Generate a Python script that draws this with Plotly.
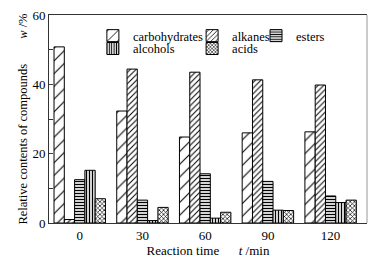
import plotly.graph_objects as go

categories = ["0", "30", "60", "90", "120"]
carbohydrates = [50.8, 32.3, 24.8, 26.0, 26.3]
alkanes = [1.0, 44.4, 43.5, 41.3, 39.8]
esters = [12.5, 6.6, 14.2, 12.0, 7.8]
alcohols = [15.2, 0.7, 1.4, 3.7, 5.9]
acids = [7.0, 4.5, 3.1, 3.6, 6.6]

series = [
    ("carbohydrates", carbohydrates, "/", 9, 0.12, "legend"),
    ("alkanes", alkanes, "/", 4, 0.25, "legend2"),
    ("esters", esters, "-", 3, 0.45, "legend3"),
    ("alcohols", alcohols, "|", 3, 0.45, "legend4"),
    ("acids", acids, "x", 3, 0.4, "legend5"),
]

FONT = "Liberation Serif"
fig = go.Figure()
for name, vals, shape, size, sol, leg in series:
    fig.add_trace(go.Bar(
        x=categories, y=vals, name=name, legend=leg, showlegend=True,
        marker=dict(color="white", line=dict(color="black", width=1),
                    pattern=dict(shape=shape, size=size, solidity=sol,
                                 fgcolor="black", bgcolor="white", fillmode="replace")),
    ))

def leg(x, y):
    return dict(x=x, y=y, xanchor="left", yanchor="middle", bgcolor="rgba(0,0,0,0)",
                font=dict(family=FONT, size=12.5, color="black"),
                itemwidth=30, tracegroupgap=0, visible=True)

fig.update_layout(
    width=377, height=263,
    margin=dict(l=49, r=10, t=15, b=40),
    paper_bgcolor="white", plot_bgcolor="white",
    showlegend=True,
    barmode="group", bargap=0.18, bargroupgap=0,
    font=dict(family=FONT, size=13, color="black"),
    legend=leg(0.138, 0.899),
    legend2=leg(0.450, 0.899),
    legend3=leg(0.651, 0.899),
    legend4=leg(0.138, 0.837),
    legend5=leg(0.450, 0.837),
    xaxis=dict(range=[-0.49, 4.58], showline=True, linecolor="#333", linewidth=1,
               mirror=True, ticks="", showgrid=False, automargin=False,
               tickfont=dict(family=FONT, size=13),
               title=dict(text="Reaction time\u00a0\u00a0\u00a0\u00a0\u00a0\u00a0<i>t</i> /min",
                          font=dict(family=FONT, size=13), standoff=2)),
    yaxis=dict(range=[0, 60], tickvals=[0, 20, 40, 60], showline=True, linecolor="#333",
               linewidth=1, ticks="inside", ticklen=4, showgrid=False, zeroline=False,
               automargin=False,
               minor=dict(dtick=10, ticks="inside", ticklen=4, tickcolor="#333"),
               tickfont=dict(family=FONT, size=13),
               title=dict(text="Relative contents of compounds\u00a0\u00a0\u00a0\u00a0\u00a0\u00a0\u00a0\u00a0<i>w</i> /%",
                          font=dict(family=FONT, size=12.5), standoff=2)),
    shapes=[dict(type="line", xref="paper", yref="paper", x0=1, x1=1, y0=0, y1=1,
                 line=dict(color="#999", width=1))],
)
fig.write_html("out.html", config={"displayModeBar": False},
               post_script="document.body.style.margin='0';")
